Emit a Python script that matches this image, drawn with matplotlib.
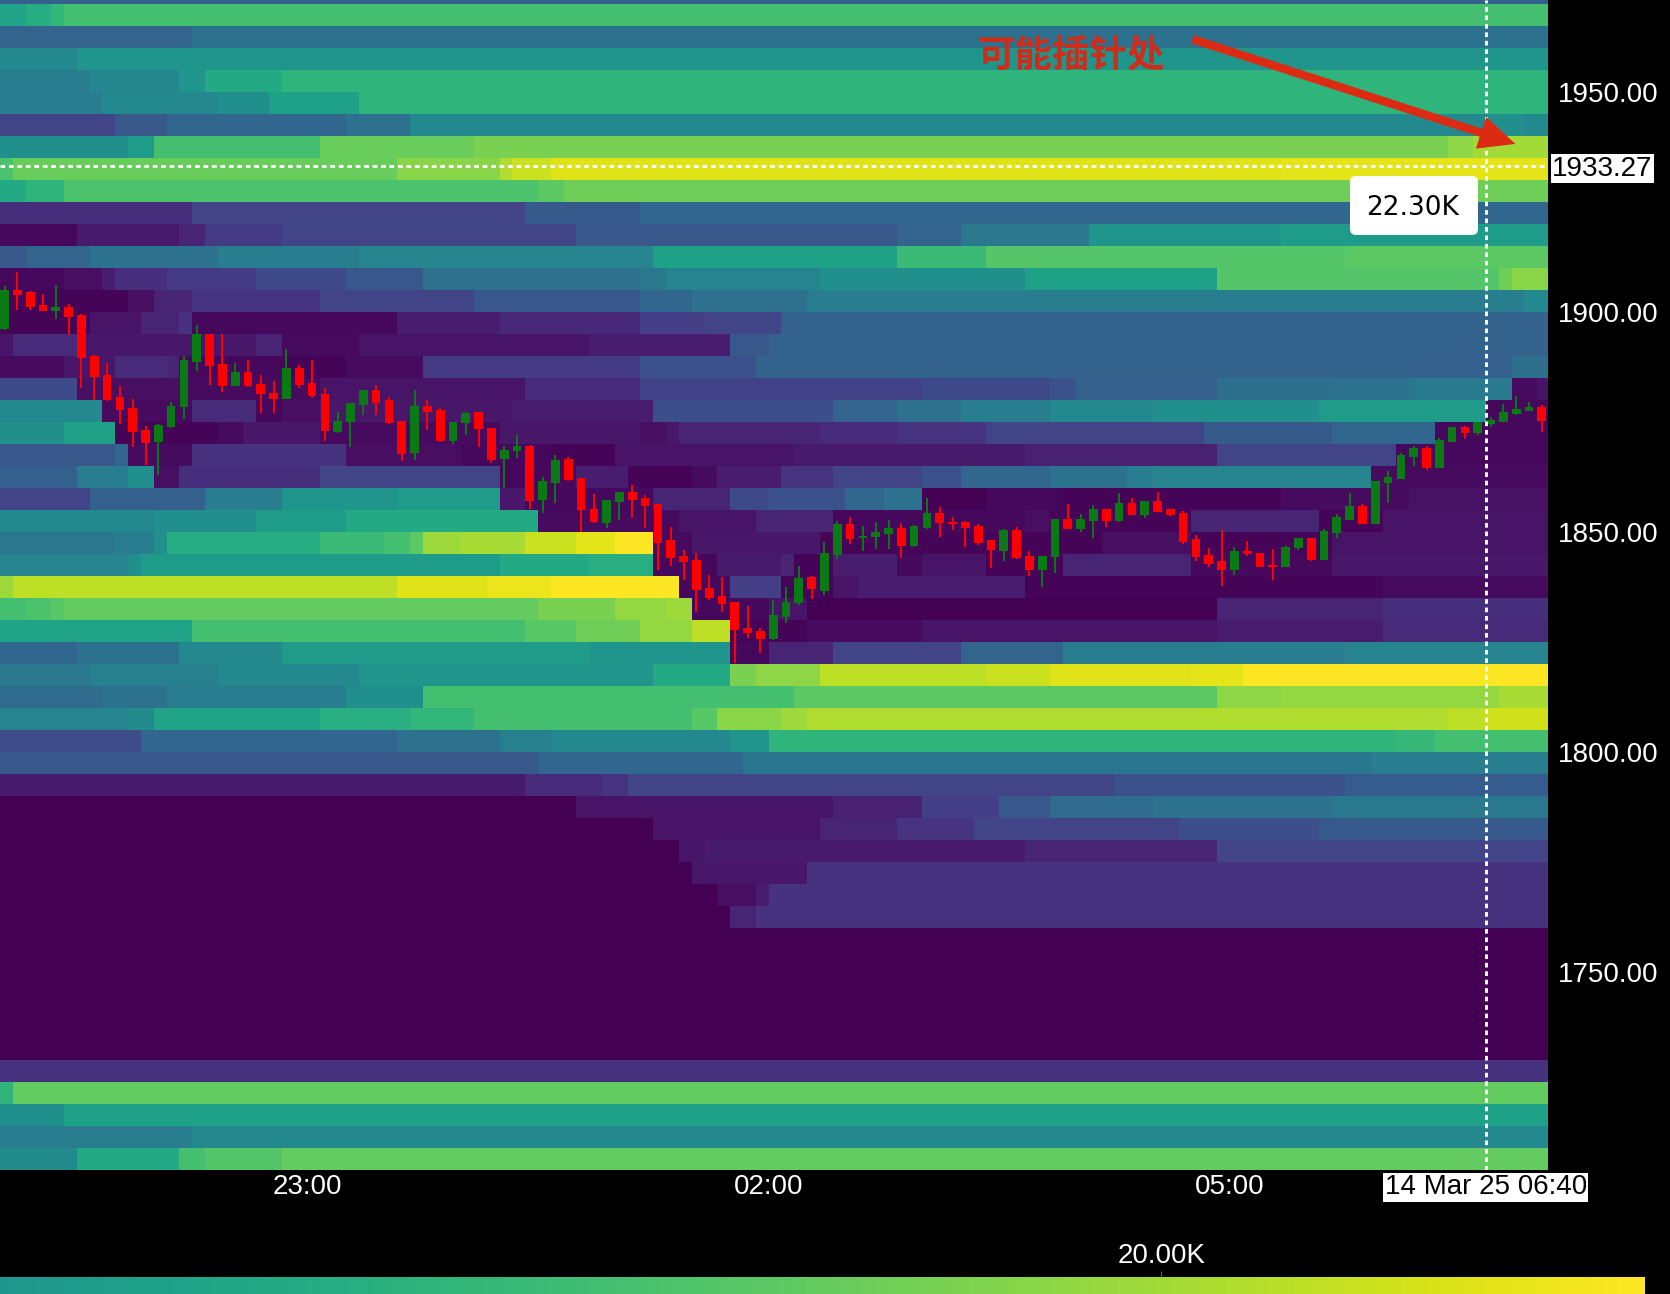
# -*- coding: utf-8 -*-
# liquidation heatmap with 5 min candles, dark chart style
import matplotlib
matplotlib.use('Agg')
import matplotlib.pyplot as plt
import matplotlib.patches as mpatches
from matplotlib.transforms import IdentityTransform
import numpy as np

plt.rcParams['font.family'] = ['Liberation Sans', 'Noto Sans CJK SC', 'DejaVu Sans']

# candles, one per 5 min bin
opens = [1896.1,1904.9,1904.5,1901.6,1900.3,1901.2,1899.4,1890.0,1885.7,1880.6,
         1878.1,1873.2,1870.4,1873.8,1878.3,1888.7,1895.0,1888.1,1883.2,1886.4,
         1883.6,1881.7,1880.3,1887.3,1883.8,1881.4,1872.8,1875.0,1878.9,1882.3,
         1879.9,1875.3,1867.9,1878.7,1877.8,1870.6,1874.7,1877.2,1873.6,1866.6,
         1868.3,1869.6,1857.2,1861.2,1866.6,1862.2,1855.2,1852.0,1856.9,1859.0,
         1857.8,1856.4,1848.1,1844.6,1843.7,1837.3,1835.5,1834.1,1828.2,1827.6,
         1825.7,1830.6,1833.8,1839.7,1836.6,1844.8,1851.9,1848.7,1848.8,1849.6,
         1850.9,1846.9,1850.9,1854.3,1852.2,1852.2,1851.3,1848.1,1845.7,1850.5,
         1844.6,1841.4,1844.3,1852.9,1850.6,1852.6,1855.2,1852.4,1856.7,1853.9,
         1857.0,1855.2,1854.4,1848.3,1844.8,1843.3,1841.4,1845.7,1845.2,1842.5,
         1842.1,1846.3,1848.6,1843.6,1849.7,1852.7,1855.9,1851.8,1861.1,1862.1,
         1867.0,1869.2,1864.6,1870.5,1873.9,1872.6,1874.6,1874.9,1876.8,1877.6,1878.3]
closes = [1904.9,1903.9,1901.2,1900.3,1901.2,1898.8,1889.6,1885.3,1880.0,1877.8,
          1872.8,1870.3,1874.4,1878.7,1889.1,1895.0,1887.8,1883.2,1886.3,1883.1,
          1881.3,1880.2,1887.2,1883.4,1880.9,1873.0,1875.3,1879.3,1882.3,1879.4,
          1874.7,1867.8,1878.7,1877.3,1870.6,1875.1,1877.0,1873.4,1866.4,1868.7,
          1869.6,1857.1,1861.5,1866.4,1861.9,1854.9,1852.2,1857.3,1859.0,1857.3,
          1856.0,1847.6,1844.1,1843.2,1836.9,1835.0,1833.7,1827.8,1827.0,1825.7,
          1831.2,1834.2,1839.5,1837.0,1845.2,1851.9,1848.4,1849.1,1850.0,1850.9,
          1846.9,1851.4,1854.3,1852.0,1851.9,1850.9,1847.6,1845.8,1850.5,1844.1,
          1841.4,1844.6,1853.0,1850.7,1853.0,1855.2,1852.4,1856.5,1853.9,1857.0,
          1854.6,1853.9,1847.8,1844.3,1842.7,1841.4,1845.7,1844.9,1842.1,1842.1,
          1846.5,1848.6,1843.6,1850.2,1853.3,1856.0,1851.8,1861.7,1862.6,1867.5,
          1869.0,1864.5,1870.9,1873.9,1872.6,1874.9,1875.5,1877.2,1878.0,1878.3,1875.3]
highs = [1905.8,1909.0,1904.7,1904.0,1906.2,1901.8,1899.6,1890.2,1888.5,1883.2,
         1880.2,1874.0,1874.6,1879.6,1889.9,1897.1,1895.0,1895.0,1888.5,1889.1,
         1885.7,1884.4,1891.6,1888.0,1889.1,1882.7,1877.2,1879.3,1882.3,1883.4,
         1880.6,1875.3,1882.3,1880.0,1878.1,1875.1,1877.2,1877.2,1873.6,1869.6,
         1872.1,1869.8,1862.5,1867.5,1867.0,1862.2,1858.7,1857.3,1859.0,1860.7,
         1858.5,1856.4,1851.1,1845.8,1845.3,1840.3,1839.7,1834.2,1833.2,1828.2,
         1834.6,1837.6,1842.2,1839.9,1847.7,1852.6,1853.5,1851.4,1852.2,1852.8,
         1852.0,1851.6,1857.7,1855.7,1853.5,1852.4,1851.9,1848.2,1850.7,1851.1,
         1845.6,1844.6,1853.0,1856.4,1854.1,1856.1,1855.2,1858.8,1857.8,1857.1,
         1859.0,1855.3,1854.8,1849.4,1846.3,1850.5,1846.5,1848.0,1845.2,1846.1,
         1846.8,1848.7,1848.6,1850.6,1854.2,1858.8,1856.3,1861.7,1863.9,1867.9,
         1869.6,1869.6,1871.3,1873.9,1874.2,1874.9,1876.2,1879.2,1880.8,1879.6,1878.9]
lows = [1895.8,1900.5,1900.5,1900.3,1898.4,1894.8,1882.7,1880.0,1879.7,1874.6,
        1869.3,1865.3,1863.0,1873.6,1875.7,1886.7,1883.4,1881.9,1883.2,1882.9,
        1877.0,1877.0,1880.2,1882.7,1880.4,1870.6,1872.5,1869.4,1876.5,1876.5,
        1874.6,1866.2,1866.4,1873.2,1870.4,1870.0,1872.1,1869.3,1865.6,1860.0,
        1866.8,1855.2,1854.4,1856.6,1861.5,1850.1,1852.0,1850.9,1852.8,1853.2,
        1850.9,1841.4,1842.3,1839.1,1831.9,1834.6,1831.9,1820.2,1825.9,1822.5,
        1825.5,1829.4,1833.5,1834.7,1835.7,1843.8,1847.3,1845.7,1846.1,1846.1,
        1844.1,1846.6,1850.6,1848.8,1850.5,1846.6,1847.1,1841.8,1843.5,1843.8,
        1839.9,1837.6,1840.6,1850.7,1850.1,1848.7,1851.2,1852.2,1853.9,1853.1,
        1854.5,1853.7,1847.3,1843.4,1842.0,1837.8,1840.2,1844.6,1842.1,1839.1,
        1842.0,1845.8,1843.5,1843.6,1848.6,1852.7,1851.8,1851.8,1856.7,1862.0,
        1864.9,1864.1,1864.5,1870.5,1871.1,1872.1,1873.9,1874.9,1876.6,1877.4,1872.8]

# heatmap levels: (first bin, value in K) for each 5 wide price band
lvl_1970 = [(0,7.0)]
lvl_1965 = [(0,13.5),(2,14.4),(4,15.3),(5,16.3)]
lvl_1960 = [(0,7.4),(15,8.8)]
lvl_1955 = [(0,10.9),(6,12.1)]
lvl_1950 = [(0,9.8),(7,10.7),(14,12.1),(16,14.0),(22,15.1)]
lvl_1945 = [(0,9.8),(8,10.9),(17,11.6),(21,13.3),(28,15.1)]
lvl_1940 = [(0,4.7),(9,6.3),(13,7.7),(27,8.6),(32,10.9),(116,11.6),(119,10.9)]
lvl_1935 = [(0,11.6),(10,12.8),(12,16.3),(25,17.9),(37,18.6),(113,19.3),(115,20.0)]
lvl_1930 = [(0,16.7),(1,17.9),(31,19.1),(39,20.5),(40,21.4),(43,22.1),(100,22.3)]
lvl_1925 = [(0,14.0),(2,15.1),(5,16.7),(42,17.4),(44,18.1)]
lvl_1920 = [(0,3.0),(15,4.7),(41,6.5),(50,7.7)]
lvl_1915 = [(0,0.5),(6,1.6),(14,2.3),(16,4.0),(22,4.7),(45,6.3),(70,7.4),(75,9.3),(85,12.1),(100,12.8)]
lvl_1910 = [(0,6.3),(2,7.4),(7,8.8),(17,9.8),(28,10.5),(51,13.3),(70,15.8),(77,17.0),(105,17.4)]
lvl_1905 = [(0,0.5),(5,0.9),(8,1.9),(9,3.0),(13,4.0),(20,5.1),(27,6.3),(33,8.6),(50,9.3),(52,10.5),(64,11.6),(80,13.3),(95,17.0),(117,18.1),(118,19.1)]
lvl_1900 = [(0,0.2),(10,0.9),(12,2.3),(15,3.5),(25,4.7),(37,6.3),(50,7.7),(54,8.6),(63,9.8),(119,10.9)]
lvl_1895 = [(0,0.2),(7,1.2),(11,2.3),(14,3.3),(15,0.5),(31,1.9),(39,2.6),(50,4.2),(55,4.7),(61,7.2)]
lvl_1890 = [(0,1.2),(1,2.8),(6,1.4),(20,2.3),(22,0.7),(28,1.2),(46,1.9),(57,6.3),(60,7.2)]
lvl_1885 = [(0,0.7),(5,1.4),(9,2.8),(13,2.3),(14,0.5),(22,0.2),(27,0.7),(33,4.0),(50,5.8),(59,7.2),(111,7.0),(118,8.4)]
lvl_1880 = [(0,5.1),(6,0.9),(14,0.7),(25,1.2),(41,2.8),(50,4.6),(72,5.1),(82,5.8),(84,7.0),(95,8.4),(104,8.8),(110,9.5),(118,0.7),(120,1.2)]
lvl_1875 = [(0,10.9),(8,0.7),(15,2.8),(20,0.5),(22,0.9),(25,1.4),(40,1.9),(51,5.6),(65,7.4),(70,8.6),(75,9.8),(82,10.9),(90,11.6),(103,12.8),(116,0.5)]
lvl_1870 = [(0,11.6),(5,13.3),(9,0.2),(17,0.7),(19,1.4),(25,0.7),(39,1.4),(50,0.9),(52,1.4),(53,2.3),(64,2.8),(70,3.5),(77,4.7),(94,6.5),(104,7.7),(112,0.5)]
lvl_1865 = [(0,6.3),(9,7.7),(10,0.7),(15,3.3),(27,0.9),(36,0.5),(43,0.2),(48,1.2),(62,1.6),(80,2.1),(95,4.7),(109,0.5)]
lvl_1860 = [(0,7.0),(6,9.8),(10,11.6),(12,0.9),(14,3.0),(25,4.7),(39,0.5),(45,1.9),(49,0.2),(54,0.7),(56,1.9),(61,3.5),(65,4.7),(72,5.8),(75,7.7),(82,8.8),(88,9.8),(90,10.5),(107,0.7)]
lvl_1855 = [(0,4.7),(7,7.0),(16,9.8),(22,12.1),(31,12.8),(39,1.4),(41,0.5),(51,2.3),(57,5.1),(60,5.8),(66,7.7),(69,8.8),(72,0.0),(77,0.5),(83,0.2),(100,0.7),(110,1.0)]
lvl_1850 = [(0,10.9),(12,11.6),(20,12.8),(27,14.0),(42,0.7),(53,1.2),(59,2.3),(65,0.5),(80,0.9),(82,0.2),(93,2.3),(103,0.2),(108,1.2)]
lvl_1845 = [(0,9.3),(9,9.8),(12,11.6),(13,14.4),(25,15.8),(30,16.3),(32,17.4),(33,19.8),(36,20.2),(41,21.4),(45,22.3),(48,23.25),(51,0.7),(54,1.4),(64,0.2),(86,0.9),(93,0.2),(104,1.2)]
lvl_1840 = [(0,10.5),(10,11.6),(11,12.8),(39,14.0),(46,14.6),(51,0.5),(56,1.6),(61,2.3),(62,0.2),(65,1.9),(70,0.5),(72,1.2),(77,0.2),(83,2.3),(93,0.5),(104,1.4)]
lvl_1835 = [(0,19.8),(1,20.9),(31,22.1),(38,22.6),(43,23.25),(53,0.5),(57,4.2),(61,0.2),(65,1.2),(67,1.9),(80,0.2),(108,0.7)]
lvl_1830 = [(0,16.3),(2,16.7),(4,17.2),(5,17.7),(42,18.6),(48,19.5),(52,19.8),(54,0.5),(60,1.2),(63,0.0),(95,2.3),(108,3.0)]
lvl_1825 = [(0,13.5),(15,16.3),(41,17.2),(45,18.1),(50,19.5),(54,20.9),(57,0.2),(63,0.7),(72,1.2),(95,1.9),(108,2.8)]
lvl_1820 = [(0,7.7),(6,8.8),(14,10.9),(22,12.8),(46,12.1),(57,0.5),(60,2.3),(65,4.7),(75,7.4),(83,9.8),(105,10.5)]
lvl_1815 = [(0,9.3),(7,10.0),(17,10.9),(28,12.1),(51,14.0),(57,18.6),(59,19.3),(64,20.9),(77,21.4),(82,22.1),(93,22.3),(97,23.25)]
lvl_1810 = [(0,8.1),(8,8.8),(13,9.8),(27,11.6),(33,16.3),(62,17.4),(95,19.3),(100,19.5),(117,20.2)]
lvl_1805 = [(0,10.5),(10,11.2),(12,13.5),(25,14.6),(32,15.3),(37,16.3),(54,17.2),(56,19.1),(61,19.8),(63,20.5),(113,20.9),(116,21.6)]
lvl_1800 = [(0,5.3),(11,7.7),(31,8.6),(39,10.0),(43,10.9),(57,12.1),(60,15.1),(109,15.6),(112,16.3)]
lvl_1795 = [(0,6.3),(42,7.7),(58,9.1),(107,9.8)]
lvl_1790 = [(0,1.6),(41,2.8),(47,3.5),(49,4.7),(87,5.8),(105,6.7)]
lvl_1785 = [(0,0.0),(45,1.2),(65,2.1),(72,4.2),(78,6.3),(82,8.1),(90,8.8),(104,9.3)]
lvl_1780 = [(0,0.0),(51,1.2),(64,2.3),(70,3.5),(76,4.7),(92,5.6),(103,6.5)]
lvl_1775 = [(0,0.0),(53,1.2),(55,1.6),(80,2.3),(95,4.7)]
lvl_1770 = [(0,0.0),(54,1.4),(63,3.3)]
lvl_1765 = [(0,0.0),(56,0.9),(59,1.9),(60,3.3)]
lvl_1760 = [(0,0.0),(57,2.3),(59,3.3)]
lvl_1755 = [(0,0.0)]
lvl_1750 = [(0,0.0)]
lvl_1745 = [(0,0.0)]
lvl_1740 = [(0,0.0)]
lvl_1735 = [(0,0.0)]
lvl_1730 = [(0,0.0)]
lvl_1725 = [(0,3.3)]
lvl_1720 = [(0,15.1),(1,17.7)]
lvl_1715 = [(0,11.6),(5,13.3)]
lvl_1710 = [(0,9.8),(15,10.9)]
lvl_1705 = [(0,11.2),(6,14.0),(14,16.3),(16,17.0),(22,17.7)]

# bottom band first
levels = [lvl_1705, lvl_1710, lvl_1715, lvl_1720, lvl_1725, lvl_1730, lvl_1735, lvl_1740, lvl_1745,
          lvl_1750, lvl_1755, lvl_1760, lvl_1765, lvl_1770, lvl_1775, lvl_1780, lvl_1785, lvl_1790,
          lvl_1795, lvl_1800, lvl_1805, lvl_1810, lvl_1815, lvl_1820, lvl_1825, lvl_1830, lvl_1835,
          lvl_1840, lvl_1845, lvl_1850, lvl_1855, lvl_1860, lvl_1865, lvl_1870, lvl_1875, lvl_1880,
          lvl_1885, lvl_1890, lvl_1895, lvl_1900, lvl_1905, lvl_1910, lvl_1915, lvl_1920, lvl_1925,
          lvl_1930, lvl_1935, lvl_1940, lvl_1945, lvl_1950, lvl_1955, lvl_1960, lvl_1965, lvl_1970]

y_ticks = [1750, 1800, 1850, 1900, 1950]
x_tick_bins = [24, 60, 96]
x_tick_labels = ['23:00', '02:00', '05:00']
cross_bin = 116
cross_label = '14 Mar 25 06:40'
cross_price = 1933.27
tooltip_text = '22.30K'
note_text = '可能插针处'

W, H = 1670, 1294
n_bins = len(opens)
grid = np.zeros((len(levels), n_bins))
for i, runs in enumerate(levels):
    for j, (start, val) in enumerate(runs):
        stop = runs[j + 1][0] if j + 1 < len(runs) else n_bins
        grid[i, start:stop] = val

fig = plt.figure(figsize=(W / 100, H / 100), dpi=100, facecolor='black')
ax = fig.add_axes([0, (H - 1170) / H, 1548 / W, 1170 / H], facecolor='black')

x_edges = np.arange(n_bins + 1)
y_edges = 1705 + 5 * np.arange(len(levels) + 1)
mesh = ax.pcolormesh(x_edges, y_edges, grid, cmap='viridis', vmin=0, vmax=23.25,
                     shading='flat', antialiased=False, zorder=1)

# candles
o = np.array(opens)
c = np.array(closes)
xs = np.arange(n_bins) + 0.36
col = np.where(c >= o, '#0a7a14', '#ff0000')
ax.vlines(xs, lows, highs, colors=col, linewidth=1.4, zorder=3)
ax.bar(xs, np.abs(c - o), bottom=np.minimum(o, c), width=0.68, color=col, linewidth=0, zorder=4)

ax.set_xlim(0, 1548 / 12.81)
ax.set_ylim(1705, 1705 + 1170 / 4.4)
for s in ax.spines.values():
    s.set_visible(False)

ax.yaxis.tick_right()
ax.set_yticks(y_ticks)
ax.set_yticklabels(['%.2f' % v for v in y_ticks])
ax.set_xticks(x_tick_bins)
ax.set_xticklabels(x_tick_labels)
ax.tick_params(axis='y', length=0, pad=7, labelcolor='white', labelsize=20)
ax.tick_params(axis='x', length=0, pad=3, labelcolor='white', labelsize=20)

# crosshair
ax.axhline(cross_price, color='white', linewidth=2.1, linestyle=(0, (1.6, 1.3)), zorder=5)
ax.axvline(cross_bin, color='white', linewidth=2.1, linestyle=(0, (1.6, 1.3)), zorder=5)
ax.text(1.0028, cross_price, '%.2f' % cross_price, transform=ax.get_yaxis_transform(), color='black',
        fontsize=20, ha='left', va='center_baseline', clip_on=False,
        bbox=dict(facecolor='white', edgecolor='none', pad=1.0), zorder=6)
ax.annotate(cross_label, xy=(cross_bin, 1705), xytext=(0, -3), textcoords='offset points', color='black',
            fontsize=20, ha='center', va='top', annotation_clip=False,
            bbox=dict(facecolor='white', edgecolor='none', pad=1.0), zorder=6)

# tooltip box
box = mpatches.FancyBboxPatch((1350, H - 235), 128, 59, boxstyle='round,pad=0,rounding_size=6',
                              facecolor='white', edgecolor='none', transform=IdentityTransform(), zorder=7)
fig.add_artist(box)
fig.text(1413 / W, (H - 205) / H, tooltip_text, color='black', fontsize=19, ha='center', va='center_baseline',
         family='DejaVu Sans', zorder=8)

# hand drawn note
ax.text(1071 / 12.81, 1705 + (1170 - 51) / 4.4, note_text, color='#cf2c1a', fontsize=27, ha='center',
        va='center_baseline', family=['Noto Sans CJK SC', 'DejaVu Sans'], weight='bold', zorder=8)
ax.annotate('', xy=(118.3, 1938.2), xytext=(93.1, 1962), zorder=8,
            arrowprops=dict(arrowstyle='simple,head_length=2.6,head_width=2.4,tail_width=0.6',
                            mutation_scale=10, color='#dd2a12', linewidth=0, shrinkA=0, shrinkB=0))

# colour bar, cut by the bottom of the image
cax = fig.add_axes([0, 0, 1645 / W, 17 / H])
cb = fig.colorbar(mesh, cax=cax, orientation='horizontal')
cb.outline.set_visible(False)
cb.set_ticks([20])
cb.set_ticklabels(['20.00K'])
cax.xaxis.set_ticks_position('top')
cax.set_xlim(12.2, 23.25)
cax.tick_params(axis='x', length=4, width=0.8, color='#666666', pad=2, labelcolor='white', labelsize=20)

fig.savefig('out.png', dpi=100, facecolor='black')
